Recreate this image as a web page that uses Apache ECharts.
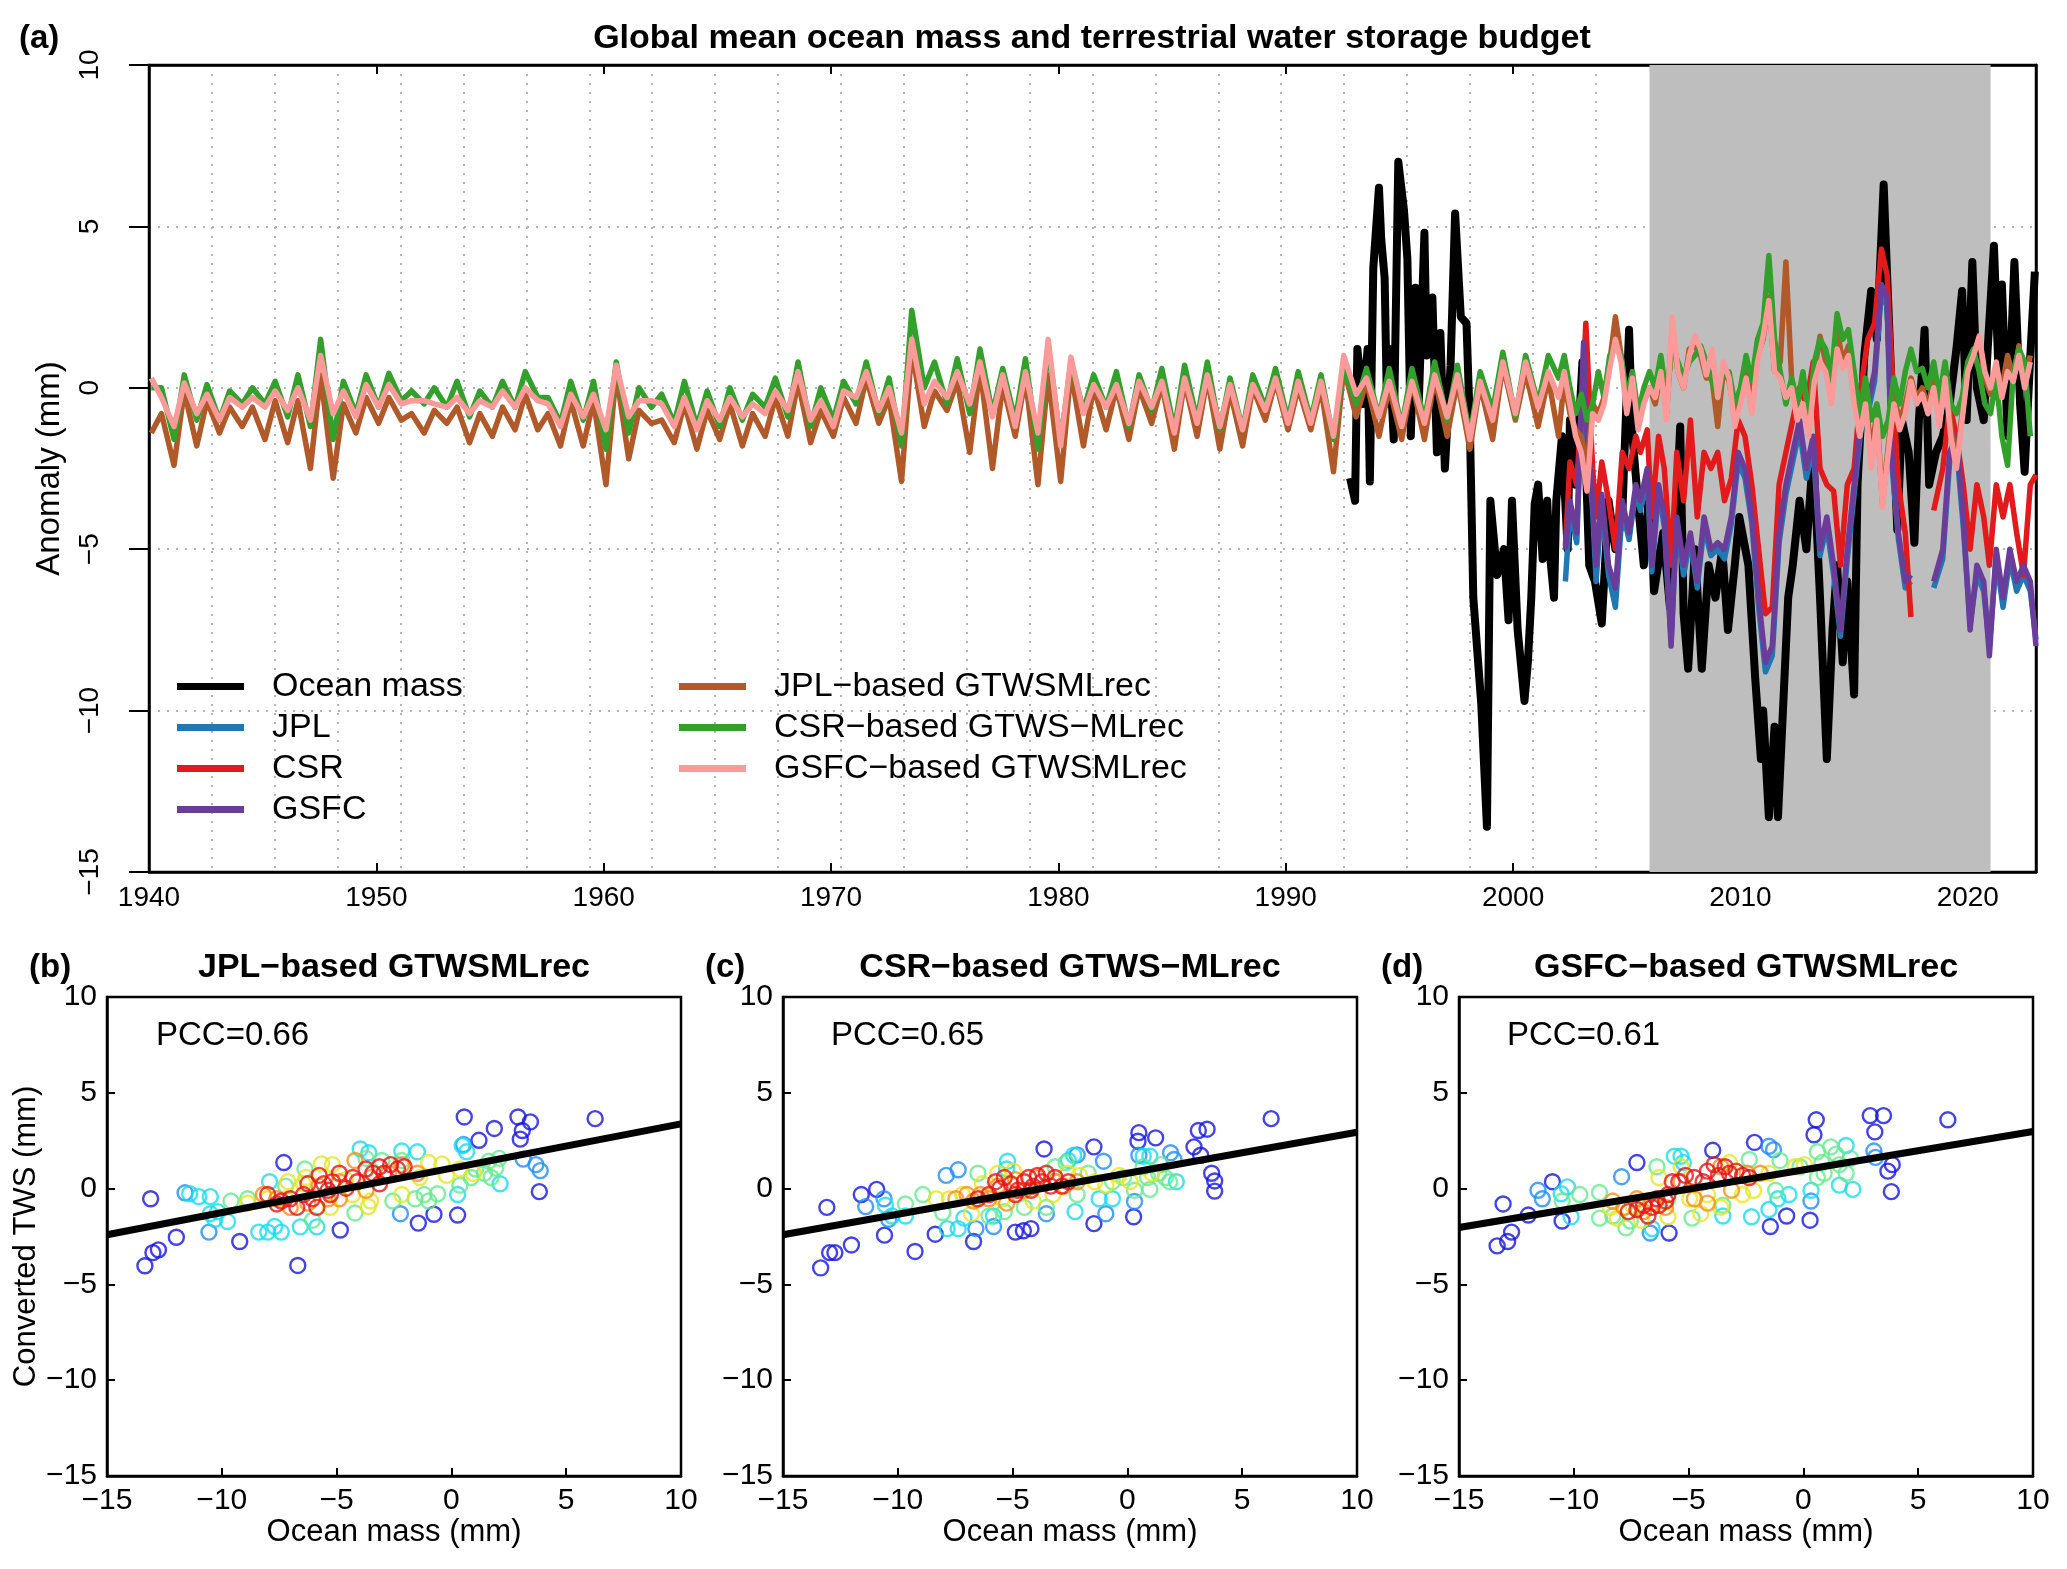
<!DOCTYPE html>
<html>
<head>
<meta charset="utf-8">
<script src="https://cdn.jsdelivr.net/npm/echarts@6/dist/echarts.min.js"></script>
<style>
html, body { margin: 0; padding: 0; background: #fff; }
#chart { width: 2067px; height: 1569px; }
</style>
</head>
<body>
<div id="chart"></div>
<script>
const FONT = '"Liberation Sans", Arial, Helvetica, sans-serif';
const DOT = '#b4b4b4';

// ---- panel (a): ocean mass (irregular sampling)
const oceanYears = [1992.83, 1993.05, 1993.15, 1993.4, 1993.6, 1993.7, 1993.85, 1994.1, 1994.2, 1994.35,
  1994.45, 1994.55, 1994.75, 1994.95, 1995.2, 1995.35, 1995.5, 1995.7, 1995.85, 1996.1,
  1996.2, 1996.45, 1996.65, 1996.8, 1997.0, 1997.25, 1997.45, 1997.7, 1997.95, 1998.1,
  1998.25, 1998.6, 1998.85, 1999.0, 1999.3, 1999.6, 1999.8, 1999.95, 2000.2, 2000.5,
  2000.65, 2000.8, 2000.95, 2001.1, 2001.3, 2001.5, 2001.6, 2001.8, 2001.9, 2002.15,
  2002.4, 2002.5, 2002.75, 2003.05, 2003.35, 2003.6, 2003.9, 2004.2, 2004.5, 2004.8,
  2005.1, 2005.25, 2005.55, 2005.75, 2006.0, 2006.2, 2006.6, 2006.9, 2007.2, 2007.35,
  2007.5, 2007.7, 2008.0, 2008.3, 2008.6, 2008.9, 2009.2, 2009.45, 2009.75, 2009.95,
  2010.35, 2010.65, 2010.9, 2011.0, 2011.25, 2011.5, 2011.65, 2011.85, 2012.1, 2012.3,
  2012.6, 2012.9, 2013.2, 2013.5, 2013.8, 2014.05, 2014.25, 2014.5, 2014.7, 2015.0,
  2015.15, 2015.45, 2015.75, 2016.0, 2016.3, 2016.45, 2016.65, 2016.9, 2017.1, 2017.4,
  2017.65, 2017.85, 2018.1, 2018.3, 2018.6, 2018.9, 2019.2, 2019.5, 2019.75, 2019.95,
  2020.2, 2020.4, 2020.7, 2020.9, 2021.15, 2021.35, 2021.5, 2021.75, 2022.05, 2022.3,
  2022.5, 2022.75, 2022.95];
const oceanMass = [-2.8, -3.5, 1.2, -0.5, 1.2, -2.9, 3.7, 6.2, 4.6, 3.4,
  -0.5, 1.2, -1.6, 7.0, 5.5, 4.0, -1.5, 3.1, -0.5, 4.8,
  1.0, 2.8, -2.0, 1.7, -2.5, 0.7, 5.4, 2.2, 2.0, -1.2,
  -6.5, -9.8, -13.6, -3.5, -5.8, -5.0, -7.2, -3.5, -7.5, -9.7,
  -8.5, -6.5, -3.6, -3.0, -5.3, -3.5, -5.0, -6.5, -3.5, -1.5,
  -5.0, -1.0, -3.0, 0.8, -5.5, -6.0, -7.3, -3.5, -5.0, -4.0,
  1.8, -1.5, -4.0, -5.5, -3.0, -6.3, -4.5, -6.8, -3.5, -1.2,
  -7.0, -8.7, -5.0, -8.7, -5.5, -6.5, -5.0, -7.5, -5.5, -4.0,
  -5.5, -9.0, -11.5, -10.0, -13.3, -10.5, -13.3, -10.3, -6.5, -5.5,
  -3.5, -5.0, -2.0, -6.5, -11.5, -7.5, -5.5, -8.5, -6.0, -9.5,
  -3.0, 1.0, 3.0, 1.5, 6.3, 3.5, 0.0, -4.4, -1.0, -2.0,
  -4.8, -1.0, 1.8, -3.0, -2.0, -1.5, -0.5, 1.2, 3.0, -1.0,
  3.9, 0.0, -1.0, 1.5, 4.4, 0.5, 3.2, -1.5, 3.9, -0.5,
  -2.6, 1.0, 3.6];

// GRACE / GRACE-FO solutions (null = mission gap)
const graceYears = [2002.3, 2002.5, 2002.8,
  2003.1, 2003.2, 2003.5, 2003.65, 2003.9,
  2004.2, 2004.5, 2004.8,
  2005.1, 2005.4, 2005.6, 2005.9,
  2006.1, 2006.4, 2006.65, 2006.95,
  2007.2, 2007.5, 2007.8,
  2008.1, 2008.4, 2008.7,
  2009.0, 2009.3, 2009.6, 2009.9,
  2010.2, 2010.5, 2010.8,
  2011.1, 2011.4, 2011.7,
  2012.0, 2012.3, 2012.6, 2012.9,
  2013.2, 2013.5, 2013.8,
  2014.1, 2014.4, 2014.7,
  2015.0, 2015.3, 2015.6, 2015.9,
  2016.2, 2016.45, 2016.65, 2016.95,
  2017.25, 2017.5,
  2018.0, 2018.5, 2018.9,
  2019.2, 2019.5, 2019.8,
  2020.1, 2020.4, 2020.7, 2020.95,
  2021.25, 2021.55, 2021.85,
  2022.15, 2022.45, 2022.75,
  2023.0];
const jplMass = [-6.0, -3.8, -4.8,
  1.0, -1.3, -3.8, -6.0, -3.6,
  -5.8, -6.8, -3.8,
  -4.7, -3.2, -3.8, -2.8,
  -5.7, -3.2, -4.3, -7.8,
  -4.2, -5.8, -4.7,
  -6.2, -4.3, -5.2,
  -5.0, -5.3, -4.2, -2.3,
  -2.8, -4.2, -6.8,
  -8.8, -8.3, -4.8,
  -3.3, -2.3, -1.3, -2.8,
  -1.8, -5.2, -4.3,
  -5.8, -7.7, -5.3,
  -3.3, -1.3, -0.8, 0.2,
  3.0, 2.5, -2.3, -4.7,
  -6.2, -6.0,
  null, -6.2, -5.3,
  -2.3, -1.8, -4.3,
  -7.3, -5.8, -6.3, -8.0,
  -5.3, -6.8, -5.3,
  -6.3, -5.8, -6.3,
  -7.8];
const csrMass = [-4.9, -2.3, -3.0,
  0.5, 2.0, -2.5, -4.0, -2.3,
  -3.5, -5.0, -2.0,
  -2.5, -1.5, -2.0, -1.3,
  -4.0, -1.5, -2.5, -5.5,
  -2.0, -3.5, -1.0,
  -4.0, -2.0, -2.5,
  -2.0, -3.5, -2.8, -1.0,
  -1.5, -3.0, -5.0,
  -7.0, -6.8, -3.0,
  -2.0, -1.0, 0.0, -0.5,
  0.8, -2.5, -3.0,
  -3.2, -5.5, -3.0,
  -2.5, 0.0, 1.5, 2.0,
  4.3, 3.5, 0.8, -3.0,
  -4.5, -7.1,
  null, -3.8, -2.5,
  -0.5, -1.5, -3.0,
  -5.0, -3.0, -4.0, -5.5,
  -3.0, -4.0, -3.0,
  -4.5, -5.8, -3.0,
  -2.7];
const gsfcMass = [-5.0, -3.5, -4.5,
  1.4, -1.0, -3.5, -5.5, -3.3,
  -5.5, -6.2, -3.5,
  -4.5, -3.0, -3.5, -2.5,
  -5.5, -3.0, -4.0, -8.0,
  -4.0, -5.5, -4.5,
  -6.0, -4.0, -5.0,
  -4.8, -5.0, -4.0, -2.0,
  -2.5, -4.0, -6.5,
  -8.5, -8.0, -4.5,
  -3.0, -2.0, -1.0, -2.5,
  -1.5, -5.0, -4.0,
  -5.5, -7.5, -5.0,
  -3.0, -1.0, -0.5, 0.5,
  3.2, 2.8, -2.0, -4.5,
  -6.0, -5.8,
  null, -6.0, -5.0,
  -2.0, -1.5, -4.0,
  -7.5, -5.5, -6.0, -8.3,
  -5.0, -6.5, -5.0,
  -6.0, -5.5, -6.0,
  -8.0];

// reconstructions: 1940-2001 one trough + one peak per year, 2002-2022 quarterly
const brownEarly = [-1.4, -0.8, -2.4, -0.1, -1.8, -0.4, -1.4, -0.6, -1.2, -0.6,
  -1.6, -0.4, -1.7, -0.4, -2.5, 0.4, -2.8, -0.5, -1.4, -0.3,
  -1.1, -0.3, -1.0, -0.8, -1.4, -0.7, -1.1, -0.6, -1.7, -0.8,
  -1.5, -0.6, -1.3, -0.2, -1.3, -0.8, -1.8, -0.4, -1.8, -0.4,
  -3.0, 0.45, -2.2, -0.7, -1.1, -1.0, -1.7, -0.5, -1.9, -0.7,
  -1.6, -0.5, -1.8, -0.8, -1.5, -0.3, -1.5, 0.2, -1.7, -0.7,
  -1.5, -0.3, -1.1, 0.3, -1.1, -0.3, -2.9, 1.2, -1.2, -0.1,
  -0.7, 0.2, -2.0, 0.6, -2.5, 0.1, -1.5, 0.3, -3.0, 0.4,
  -2.9, 0.5, -1.8, 0.0, -1.3, 0.0, -1.6, 0.0, -1.1, 0.1,
  -1.9, 0.2, -1.5, 0.3, -1.9, -0.1, -1.8, 0.0, -1.0, 0.2,
  -1.3, 0.0, -1.3, 0.0, -2.6, 0.6, -0.9, 0.2, -1.5, 0.0,
  -1.6, 0.2, -1.6, 0.3, -1.5, 0.2, -1.9, 0.1, -1.6, 0.7,
  -1.0, 0.5, -1.2, 0.3];
const greenEarly = [0.0, 0.0, -1.6, 0.4, -1.0, 0.1, -1.0, -0.1, -0.5, 0.0,
  -0.5, 0.2, -0.9, 0.4, -1.2, 1.5, -1.6, 0.2, -0.8, 0.4,
  -0.6, 0.45, -0.4, -0.1, -0.5, 0.0, -0.6, 0.2, -0.9, -0.1,
  -0.6, 0.2, -0.6, 0.5, -0.3, -0.3, -1.1, 0.2, -1.0, 0.2,
  -1.9, 0.8, -1.4, 0.0, -0.6, -0.2, -1.1, 0.2, -1.2, -0.1,
  -1.2, 0.0, -1.0, -0.2, -0.6, 0.3, -0.9, 0.8, -1.2, 0.0,
  -1.0, 0.2, -0.5, 0.8, -0.8, 0.3, -1.8, 2.4, 0.0, 0.8,
  -0.5, 0.9, -0.8, 1.2, -0.8, 0.6, -1.0, 0.9, -1.9, 1.3,
  -1.7, 0.8, -0.7, 0.4, -0.6, 0.5, -1.2, 0.4, -0.7, 0.6,
  -1.3, 0.7, -1.0, 0.8, -1.3, 0.3, -1.3, 0.4, -0.6, 0.6,
  -1.0, 0.5, -1.0, 0.4, -1.6, 0.6, -0.5, 0.6, -0.9, 0.6,
  -1.2, 0.6, -1.0, 0.8, -1.0, 0.7, -1.5, 0.5, -0.7, 1.1,
  -0.9, 1.0, -0.5, 1.0];
const pinkEarly = [0.3, -0.3, -1.2, 0.15, -0.8, -0.2, -1.0, -0.3, -0.6, -0.3,
  -0.6, -0.1, -0.7, 0.0, -1.0, 1.0, -0.8, -0.1, -0.9, 0.1,
  -0.6, 0.1, -0.5, -0.4, -0.4, -0.5, -0.6, -0.3, -0.8, -0.4,
  -0.6, -0.1, -0.6, 0.0, -0.4, -0.5, -1.2, -0.2, -0.9, -0.2,
  -1.3, 0.7, -0.9, -0.4, -0.4, -0.5, -1.2, -0.3, -1.3, -0.4,
  -1.0, -0.3, -0.9, -0.5, -0.8, -0.1, -0.7, 0.5, -1.0, -0.4,
  -1.2, -0.1, -0.3, 0.5, -0.7, 0.0, -1.4, 1.5, -0.5, 0.2,
  -0.3, 0.5, -0.5, 0.8, -0.9, 0.4, -1.2, 0.5, -1.4, 1.5,
  -1.8, 0.95, -0.8, 0.1, -0.6, 0.1, -1.1, 0.2, -0.6, 0.2,
  -1.4, 0.3, -1.1, 0.4, -1.2, 0.1, -1.3, 0.1, -0.7, 0.3,
  -1.1, 0.2, -1.1, 0.2, -1.5, 1.0, -0.2, 0.3, -0.9, 0.2,
  -1.2, 0.2, -1.1, 0.4, -0.9, 0.4, -1.6, 0.2, -1.0, 0.8,
  -0.8, 0.8, -0.6, 0.5];
const brownLate = [-1.5, 0.2, -0.8, -1.3, -1.5, -2.5, -0.5, -0.8, -0.3, 0.8, 2.2, 1.0,
  -0.5, 0.3, -1.0, -0.3, 0.0, -0.5, 0.5, -0.8, 1.8, 0.5, 0.0, 1.2,
  1.3, 1.0, 0.3, 0.3, -1.2, 0.6, 0.2, -0.8, -0.2, 0.6, -0.5, 1.0,
  1.5, 2.8, 0.5, 0.8, 3.9, 0.3, -0.5, 0.3, -0.8, 0.5, 1.6, 0.8,
  -0.3, 1.8, 0.8, 1.3, -0.3, -1.3, -0.3, -2.0, -0.8, -3.6, -1.8, -0.3,
  -1.0, -0.5, 0.3, -0.3, 0.0, -0.6, 0.3, -1.0, 0.5, -1.2, -2.3, -0.8,
  0.6, 1.0, 1.5, 0.3, -0.2, 0.6, 0.0, 1.0, 0.3, 1.3, 0.2, 1.0];
const greenLate = [0.3, 1.0, 0.0, -0.8, -0.2, -1.0, -0.5, 0.5, -0.3, 1.0, 1.3, 1.0,
  -0.3, 0.5, -0.8, 0.0, 0.5, 0.0, 1.0, -0.3, 1.3, 0.8, 0.3, 0.8,
  1.0, 1.3, 0.8, 0.2, -0.3, 0.5, 0.5, -0.5, 0.0, 1.0, 0.2, 1.5,
  2.0, 4.1, 1.5, 0.5, -0.5, 0.3, -0.5, 0.5, -1.0, 0.8, 1.5, 1.2,
  0.3, 2.3, 1.5, 1.8, 0.5, -0.8, 0.3, -1.0, -0.5, -1.5, -1.0, 0.3,
  -0.5, 0.5, 1.2, 0.5, 0.6, 0.0, 0.8, -0.3, 0.8, -0.5, -0.8, -0.3,
  0.8, 1.2, 0.5, -0.5, -0.8, 0.3, -1.5, -2.4, 0.5, 1.2, 0.8, -1.5];
const pinkLate = [-0.3, 0.5, -0.5, -1.5, -2.0, -3.2, -0.8, -1.0, -0.5, 0.6, 1.5, 0.8,
  -0.8, 0.3, -1.3, -0.5, 0.0, -0.3, 0.5, -1.0, 2.2, 0.5, 0.0, 1.0,
  1.6, 1.2, 0.4, 1.2, -0.3, 0.8, 0.3, -1.2, -0.5, 0.3, -0.8, 0.8,
  1.6, 2.7, 0.5, 0.3, -0.3, 0.0, -1.0, -0.5, -1.5, 0.2, 0.8, 0.5,
  -0.5, 1.2, 0.6, 1.0, -0.5, -1.5, -0.5, -2.5, -1.0, -3.7, -2.0, -0.5,
  -1.3, -0.8, 0.2, -0.5, -0.2, -0.8, 0.0, -1.2, 0.3, -1.5, -2.5, -1.0,
  0.5, 1.0, 1.6, 0.5, 0.0, 0.8, -0.3, 0.5, 0.2, 1.0, 0.0, 0.8];

const grayBand = [2006, 2021];

// ---- panels (b)-(d): scatter points grouped by density colour
const bDark = [[-13.35,-4.03],[-13.1,-0.53],[-13.0,-3.34],[-12.76,-3.2],[-11.98,-2.54],[-9.22,-2.76],[-7.3,1.36],[-6.69,-4.01],[-4.84,-2.16],[-1.44,-1.8],[-0.76,-1.34],[0.27,-1.38],[0.56,3.74],[1.2,2.52],[1.87,3.14],[2.9,3.74],[3.0,2.58],[3.09,3.03],[3.44,3.48],[3.83,-0.16],[6.26,3.65]];
const bBlue = [[-11.6,-0.22],[-10.56,-2.27],[0.53,2.3],[3.68,1.25],[3.87,0.94],[3.13,1.54],[-2.22,-1.31]];
const bCyan = [[-11.4,-0.27],[-11.0,-0.42],[-10.5,-0.42],[-10.5,-1.31],[-10.18,-1.2],[-10.3,-1.6],[-9.75,-1.72],[-8.39,-2.27],[-8.0,-2.27],[-7.41,-2.27],[-7.7,-1.98],[-6.58,-2.0],[-5.86,-2.0],[-7.92,0.36],[-3.97,2.07],[-3.6,1.87],[-2.16,1.96],[-1.48,1.92],[0.27,-0.31],[2.12,0.25],[0.66,1.92],[0.47,2.25]];
const bGreen = [[-9.6,-0.65],[-8.87,-0.53],[-6.05,-1.65],[-4.2,-1.27],[-2.55,-0.65],[-1.58,-0.53],[-1.19,-0.31],[-0.99,-0.65],[-0.6,-0.27],[0.37,0.18],[0.86,0.58],[1.05,1.02],[1.44,0.8],[1.73,0.58],[1.93,1.07],[2.08,1.58],[1.63,1.43],[-2.16,1.47],[-3.03,1.47],[-3.72,1.58],[-6.38,1.02],[-7.22,0.13]];
const bYellow = [[-8.87,-0.76],[-8.0,-0.53],[-7.12,0.36],[-6.34,0.58],[-5.66,1.29],[-5.18,1.25],[-4.6,0.47],[-4.3,-0.31],[-3.62,-0.94],[-3.52,-0.65],[-2.16,-0.31],[-0.99,1.36],[-0.41,1.29],[-0.21,0.69],[0.37,1.02],[0.95,0.8],[-1.38,0.58],[-6.44,0.25],[-7.22,-0.53],[-5.27,-0.98]];
const bOrange = [[-8.19,-0.31],[-7.6,-0.53],[-7.02,-0.98],[-6.25,-0.76],[-5.76,0.13],[-5.37,-0.53],[-4.88,0.36],[-4.2,1.47],[-3.52,0.58],[-2.74,0.8],[-2.16,1.25],[-1.48,0.8],[-4.88,-0.53],[-3.72,-0.09]];
const bRed = [[-8.0,-0.31],[-7.41,-0.65],[-7.02,-0.53],[-6.73,-0.98],[-6.44,-0.31],[-6.05,-0.53],[-5.76,0.69],[-5.56,0.25],[-5.37,-0.09],[-5.18,0.36],[-4.88,0.8],[-4.59,0.02],[-4.3,0.58],[-4.1,0.36],[-3.72,1.02],[-3.42,0.8],[-3.13,0.25],[-2.94,0.8],[-2.65,1.25],[-2.35,1.02],[-2.06,1.14],[-3.13,1.14],[-6.25,0.25],[-7.6,-0.8],[-5.86,-0.98],[-5.27,-0.31]];

const cDark = [[-13.36,-4.14],[-13.09,-0.98],[-12.97,-3.34],[-12.74,-3.34],[-12.02,-2.94],[-11.59,-0.31],[-10.92,-0.04],[-10.58,-2.43],[-9.25,-3.28],[-8.37,-2.38],[-6.7,-2.76],[-4.88,-2.27],[-4.53,-2.2],[-4.2,-2.09],[-3.63,2.07],[-1.46,2.18],[-1.46,-1.83],[0.27,-1.47],[0.46,2.47],[0.5,2.92],[1.23,2.65],[2.9,2.18],[3.09,3.03],[3.47,3.1],[3.19,1.74],[3.67,0.8],[3.8,0.4],[3.8,-0.13],[6.26,3.65]];
const cBlue = [[-11.4,-0.94],[-10.6,-0.53],[-10.4,-1.6],[-7.89,0.69],[-7.37,0.98],[-6.6,-2.09],[-5.83,-1.98],[0.31,-0.67],[0.5,1.74],[1.88,1.87],[2.03,1.52],[-2.19,1.76],[-1.04,1.43],[-0.94,-1.31],[-3.53,-1.31]];
const cCyan = [[-10.54,-0.87],[-10.25,-1.43],[-9.67,-1.43],[-7.85,-2.09],[-7.37,-2.09],[-7.12,-1.54],[-5.22,1.43],[-5.26,1.02],[-5.83,-1.43],[-2.57,1.47],[-2.34,1.74],[-2.28,-1.2],[0.69,1.69],[0.98,1.69],[2.13,0.36],[-0.65,-0.53],[-1.23,-0.53]];
const cGreen = [[-9.67,-0.8],[-8.91,-0.31],[-8.04,-1.25],[-6.51,0.8],[-6.03,-1.43],[-5.36,-1.2],[-4.49,-0.98],[-3.53,-0.98],[-3.15,1.14],[-2.67,1.36],[-2.19,-0.31],[-1.71,0.8],[-0.17,0.58],[0.31,-0.09],[0.88,0.58],[0.98,-0.04],[1.36,0.8],[1.65,0.58],[1.84,0.36],[1.46,1.25],[0.69,1.14],[-0.65,0.36]];
const cYellow = [[-8.33,-0.53],[-7.75,-0.53],[-7.18,-0.31],[-6.79,-1.31],[-6.31,0.25],[-5.64,0.8],[-5.45,-0.53],[-4.97,0.91],[-4.11,-0.65],[-3.24,-0.31],[-2.61,0.8],[-2.09,0.69],[-1.42,0.36],[-0.94,0.18],[-0.36,0.69],[0.12,0.36],[1.07,0.8]];
const cOrange = [[-7.47,-0.53],[-6.99,-0.31],[-6.7,-0.65],[-6.41,-0.31],[-6.03,-0.53],[-5.64,0.13],[-5.26,-0.76],[-4.88,0.47],[-4.49,-0.09],[-3.92,0.58],[-3.15,0.36],[-2.76,0.13],[-2.19,0.36]];
const cRed = [[-6.51,-0.53],[-6.03,-0.31],[-5.74,0.36],[-5.55,0.02],[-5.36,0.58],[-5.07,0.25],[-4.78,-0.09],[-4.49,0.36],[-4.3,0.58],[-4.11,0.13],[-3.92,0.69],[-3.72,0.36],[-3.53,0.8],[-3.34,0.13],[-3.15,0.58],[-2.86,0.13],[-2.57,0.36],[-4.2,-0.09],[-4.88,-0.31]];

const dDark = [[-13.34,-2.99],[-13.08,-0.8],[-12.88,-2.76],[-12.71,-2.27],[-11.98,-1.38],[-10.93,0.36],[-10.51,-1.69],[-7.25,1.36],[-5.85,-2.32],[-3.95,2.0],[-2.13,2.41],[-1.44,-1.98],[-0.73,-1.43],[0.29,-1.65],[0.46,2.81],[0.56,3.59],[2.91,3.81],[3.11,2.96],[3.49,3.81],[3.68,0.91],[3.87,1.25],[3.83,-0.16],[6.29,3.59]];
const dBlue = [[-11.56,-0.09],[-11.37,-0.53],[-1.5,2.21],[-1.3,2.03],[3.07,1.96],[3.14,1.63],[0.33,-0.65],[-6.67,-2.32],[-7.92,0.62]];
const dCyan = [[-10.55,-0.27],[-10.28,0.09],[-10.12,-1.47],[-6.59,-2.09],[-5.62,1.69],[-5.33,1.69],[-5.23,1.36],[-3.51,-1.43],[-2.26,-1.47],[-1.5,-1.09],[0.33,-0.09],[1.57,0.18],[1.86,2.25],[2.15,-0.04],[-1.11,-0.53],[-0.63,-0.31]];
const dGreen = [[-10.51,-0.65],[-9.74,-0.31],[-8.88,-0.2],[-8.88,-1.54],[-8.3,-1.43],[-7.73,-2.05],[-7.54,-1.69],[-6.38,1.14],[-5.9,-0.53],[-4.85,-1.54],[-3.51,-0.87],[-2.36,1.52],[-1.02,1.47],[-1.21,-0.09],[0.61,1.92],[0.81,1.36],[1.19,2.18],[1.42,1.8],[1.57,1.25],[2.05,1.58],[1.86,0.8],[0.61,0.58],[0.9,0.8],[-0.15,1.14]];
const dYellow = [[-8.4,-0.98],[-8.11,-1.54],[-7.44,-0.87],[-7.06,-1.65],[-6.29,0.58],[-5.9,-1.47],[-5.33,1.14],[-4.95,-0.53],[-4.47,-1.31],[-4.18,-0.31],[-3.6,-0.98],[-3.22,1.36],[-2.65,-0.31],[-2.17,-0.09],[-1.5,0.8],[-0.35,1.14],[0.04,1.25]];
const dOrange = [[-8.3,-0.65],[-7.82,-0.98],[-7.25,-0.53],[-6.96,-1.2],[-6.58,-0.76],[-6.0,-0.98],[-5.33,0.36],[-4.75,-0.53],[-4.18,-0.76],[-3.6,1.14],[-3.13,-0.09],[-2.45,0.8],[-1.88,0.8]];
const dRed = [[-7.63,-1.2],[-7.25,-1.09],[-6.96,-0.87],[-6.77,-1.43],[-6.59,-0.98],[-6.29,-0.87],[-6.0,-0.65],[-5.71,0.36],[-5.43,0.36],[-5.14,0.69],[-4.75,0.58],[-4.37,0.36],[-4.18,0.91],[-3.89,1.25],[-3.7,0.69],[-3.41,1.14],[-3.22,0.8],[-2.93,0.91],[-2.65,0.69],[-2.36,0.58],[-6.38,-0.53],[-5.9,-0.31]];

// fitted lines, values at x = -15 and x = 10
const fitX = [-15, 10];
const fitB = [-2.41, 3.38];
const fitC = [-2.41, 2.94];
const fitD = [-2.03, 2.98];

const panelTitles = ['JPL\u2212based GTWSMLrec', 'CSR\u2212based GTWS\u2212MLrec', 'GSFC\u2212based GTWSMLrec'];
const pccText = ['PCC=0.66', 'PCC=0.65', 'PCC=0.61'];

// ------------------------------------------------------------------
function minus(v) { return String(v).replace('-', '\u2212'); }

function pairs(xs, ys) {
    return xs.map((x, i) => [x, ys[i] == null ? null : ys[i]]);
}

function recData(early, late) {
    var out = [];
    early.forEach((v, i) => out.push([1940 + Math.floor(i / 2) + (i % 2 ? 0.55 : 0.1), v]));
    late.forEach((v, i) => out.push([2002 + i * 0.25, v]));
    return out;
}

var lineDefs = [
    { name: 'Ocean mass', data: pairs(oceanYears, oceanMass), color: '#000000', width: 8 },
    { name: 'JPL', data: pairs(graceYears, jplMass), color: '#1F78B4', width: 5.5 },
    { name: 'CSR', data: pairs(graceYears, csrMass), color: '#E31A1C', width: 5.5 },
    { name: 'GSFC', data: pairs(graceYears, gsfcMass), color: '#6A3D9A', width: 5.5 },
    { name: 'JPL\u2212based GTWSMLrec', data: recData(brownEarly, brownLate), color: '#B15928', width: 5.5 },
    { name: 'CSR\u2212based GTWS\u2212MLrec', data: recData(greenEarly, greenLate), color: '#33A02C', width: 5.5 },
    { name: 'GSFC\u2212based GTWSMLrec', data: recData(pinkEarly, pinkLate), color: '#FB9A99', width: 5.5 }
];

var series = lineDefs.map(function (d, i) {
    var s = {
        type: 'line', name: d.name, xAxisIndex: 0, yAxisIndex: 0,
        data: d.data, showSymbol: false, symbol: 'none', connectNulls: false,
        itemStyle: { color: d.color },
        lineStyle: { color: d.color, width: d.width, join: 'round' },
        z: 3 + i
    };
    if (i === 0) {
        s.markArea = {
            silent: true, z: 1,
            itemStyle: { color: '#BEBEBE' },
            data: [[{ xAxis: grayBand[0] }, { xAxis: grayBand[1] }]]
        };
    }
    return s;
});

var jet = ['#1414E6', '#1E8CFF', '#14DCF0', '#64EB8C', '#E6E61E', '#FF8C14', '#E61414'];
var scatterSets = [
    [bDark, bBlue, bCyan, bGreen, bYellow, bOrange, bRed],
    [cDark, cBlue, cCyan, cGreen, cYellow, cOrange, cRed],
    [dDark, dBlue, dCyan, dGreen, dYellow, dOrange, dRed]
];
var fits = [fitB, fitC, fitD];

scatterSets.forEach(function (groups, p) {
    groups.forEach(function (pts, g) {
        series.push({
            type: 'scatter', xAxisIndex: 3 + p, yAxisIndex: 2 + p,
            data: pts, symbol: 'circle', symbolSize: 15,
            itemStyle: { color: 'rgba(0,0,0,0)', borderColor: jet[g], borderWidth: 2.4 },
            z: 3 + g
        });
    });
    series.push({
        type: 'line', xAxisIndex: 3 + p, yAxisIndex: 2 + p,
        data: pairs(fitX, fits[p]), symbol: 'none',
        lineStyle: { color: '#000', width: 7 }, z: 20
    });
});

var grids = [
    { left: 149, top: 65, width: 1887, height: 807 },
    { left: 107, top: 997, width: 574, height: 479 },
    { left: 783, top: 997, width: 574, height: 479 },
    { left: 1459, top: 997, width: 574, height: 479 }
].map(g => Object.assign(g, { show: true, borderColor: '#000', borderWidth: 2.5, backgroundColor: 'transparent' }));

var black = { color: '#000', width: 2.5 };
var dotted = { color: DOT, width: 2, type: [2, 7] };

var xAxes = [
    {
        type: 'value', gridIndex: 0, min: 1940, max: 2023, interval: 10,
        axisLine: { show: true, onZero: false, lineStyle: black },
        axisTick: { inside: true, length: 9, lineStyle: { color: '#000', width: 2 } },
        axisLabel: { fontSize: 28, fontFamily: FONT, color: '#000', margin: 12,
            formatter: v => (v % 10 === 0 ? String(v) : '') },
        splitLine: { show: false }
    },
    {
        type: 'value', gridIndex: 0, position: 'top', min: 1940, max: 2023, interval: 10,
        axisLine: { show: true, onZero: false, lineStyle: black },
        axisTick: { inside: true, length: 9, lineStyle: { color: '#000', width: 2 } },
        axisLabel: { show: false }, splitLine: { show: false }
    },
    {
        // 30 evenly spaced dotted verticals, like grid(nx = 30)
        type: 'value', gridIndex: 0, min: 0, max: 30, interval: 1,
        axisLine: { show: false }, axisTick: { show: false }, axisLabel: { show: false },
        splitLine: { show: true, showMinLine: false, showMaxLine: false, lineStyle: dotted }
    }
];
[1, 2, 3].forEach(function (g) {
    xAxes.push({
        type: 'value', gridIndex: g, min: -15, max: 10, interval: 5,
        name: 'Ocean mass (mm)', nameLocation: 'middle', nameGap: 37,
        nameTextStyle: { fontSize: 31, fontFamily: FONT, color: '#000' },
        axisLine: { show: true, onZero: false, lineStyle: black },
        axisTick: { inside: true, length: 8, lineStyle: { color: '#000', width: 2 } },
        axisLabel: { fontSize: 30, fontFamily: FONT, color: '#000', margin: 10, formatter: minus },
        splitLine: { show: false }
    });
});

var yAxes = [
    {
        type: 'value', gridIndex: 0, min: -15, max: 10, interval: 5,
        name: 'Anomaly (mm)', nameLocation: 'middle', nameGap: 83,
        nameTextStyle: { fontSize: 33, fontFamily: FONT, color: '#000' },
        axisLine: { show: true, onZero: false, lineStyle: black },
        axisTick: { inside: false, length: 20, lineStyle: { color: '#000', width: 2 } },
        axisLabel: { fontSize: 28, fontFamily: FONT, color: '#000', rotate: 90, margin: 45, formatter: minus },
        splitLine: { show: true, showMinLine: false, showMaxLine: false, lineStyle: dotted }
    },
    {
        // right-hand frame edge of panel (a), kept solid above the dotted grid
        type: 'value', gridIndex: 0, position: 'right', min: -15, max: 10, interval: 5,
        axisLine: { show: true, onZero: false, lineStyle: black },
        axisTick: { show: false }, axisLabel: { show: false }, splitLine: { show: false }
    }
];
[1, 2, 3].forEach(function (g) {
    yAxes.push({
        type: 'value', gridIndex: g, min: -15, max: 10, interval: 5,
        name: g === 1 ? 'Converted TWS (mm)' : '', nameLocation: 'middle', nameGap: 63,
        nameTextStyle: { fontSize: 31, fontFamily: FONT, color: '#000' },
        axisLine: { show: true, onZero: false, lineStyle: black },
        axisTick: { inside: true, length: 8, lineStyle: { color: '#000', width: 2 } },
        axisLabel: { fontSize: 30, fontFamily: FONT, color: '#000', margin: 10, formatter: minus },
        splitLine: { show: false }
    });
});

function legendBox(names, left) {
    return {
        data: names, orient: 'vertical', left: left, top: 666, padding: 0,
        icon: 'rect', itemWidth: 67, itemHeight: 7, itemGap: 0, selectedMode: false,
        textStyle: { fontSize: 34, lineHeight: 41, fontFamily: FONT, color: '#000', padding: [0, 0, 0, 23] }
    };
}

function txt(text, x, y, size, bold, align) {
    var font = (bold ? 'bold ' : '') + size + 'px ' + FONT;
    return {
        type: 'text', z: 50,
        style: { text: text, x: x, y: y, font: font, fill: '#000',
            align: align, textAlign: align, verticalAlign: 'middle', textVerticalAlign: 'middle' }
    };
}

var graphics = [
    txt('(a)', 19, 39, 33, true, 'left'),
    txt('Global mean ocean mass and terrestrial water storage budget', 1092, 39, 34, true, 'center'),
    txt('(b)', 29, 968, 33, true, 'left'),
    txt('(c)', 705, 968, 33, true, 'left'),
    txt('(d)', 1381, 968, 33, true, 'left'),
    txt(panelTitles[0], 394, 968, 34, true, 'center'),
    txt(panelTitles[1], 1070, 968, 34, true, 'center'),
    txt(panelTitles[2], 1746, 968, 34, true, 'center'),
    txt(pccText[0], 156, 1036, 33, false, 'left'),
    txt(pccText[1], 831, 1036, 33, false, 'left'),
    txt(pccText[2], 1507, 1036, 33, false, 'left')
];

var chart = echarts.init(document.getElementById('chart'));
chart.setOption({
    backgroundColor: '#fff',
    animation: false,
    textStyle: { fontFamily: FONT },
    grid: grids,
    xAxis: xAxes,
    yAxis: yAxes,
    legend: [
        legendBox(lineDefs.slice(0, 4).map(d => d.name), 177),
        legendBox(lineDefs.slice(4).map(d => d.name), 679)
    ],
    graphic: graphics,
    series: series
});
</script>
</body>
</html>
